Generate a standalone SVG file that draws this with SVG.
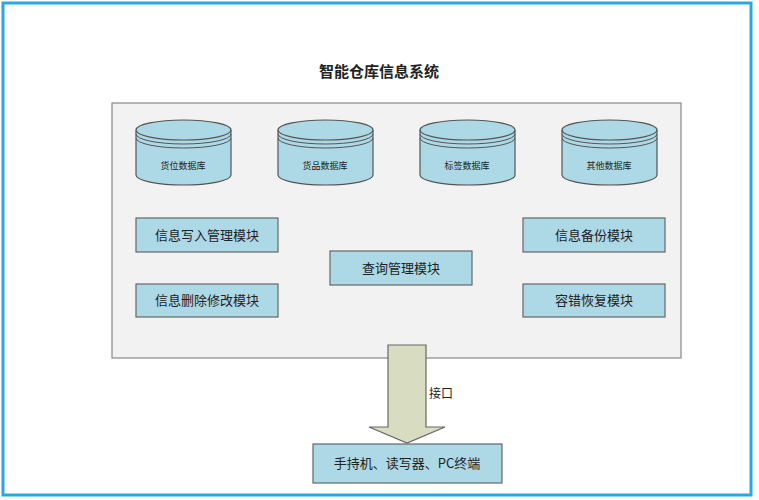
<svg xmlns="http://www.w3.org/2000/svg" width="759" height="500" viewBox="0 0 759 500">
<style>
.t{font-family:"Noto Sans CJK SC","Liberation Sans",sans-serif;fill:#222}
.b{fill:#add8e6;stroke:#666;stroke-width:1.2}
.c{fill:#add8e6;stroke:#555;stroke-width:1.2}
</style>
<defs>
<g id="cyl">
<path class="c" d="M0,10 V55 A47.5,10 0 0 0 95,55 V10"/>
<ellipse class="c" cx="47.5" cy="10" rx="47.5" ry="10"/>
<path d="M0,14 A47.5,10 0 0 0 95,14 M0,18 A47.5,10 0 0 0 95,18" fill="none" stroke="#555" stroke-width="1"/>
</g>
</defs>
<rect x="0" y="0" width="759" height="500" fill="#fff"/>
<rect x="3" y="3" width="748" height="492" fill="#fff" stroke="#29a8e0" stroke-width="3"/>
<text class="t" x="379" y="77" font-size="15" font-weight="bold" text-anchor="middle">智能仓库信息系统</text>
<rect x="112" y="103" width="569" height="255" fill="#f2f2f2" stroke="#888" stroke-width="1.2"/>
<g id="db1"><use href="#cyl" x="136" y="120"/><text class="t" x="183" y="169" font-size="9" text-anchor="middle">货位数据库</text></g>
<g id="db2"><use href="#cyl" x="278" y="120"/><text class="t" x="325" y="169" font-size="9" text-anchor="middle">货品数据库</text></g>
<g id="db3"><use href="#cyl" x="420" y="120"/><text class="t" x="467" y="169" font-size="9" text-anchor="middle">标签数据库</text></g>
<g id="db4"><use href="#cyl" x="562" y="120"/><text class="t" x="609" y="169" font-size="9" text-anchor="middle">其他数据库</text></g>
<g id="m1"><rect class="b" x="136" y="218" width="142" height="34"/><text class="t" x="207" y="240" font-size="13" text-anchor="middle">信息写入管理模块</text></g>
<g id="m2"><rect class="b" x="136" y="284" width="142" height="33"/><text class="t" x="207" y="305" font-size="13" text-anchor="middle">信息删除修改模块</text></g>
<g id="m3"><rect class="b" x="330" y="251" width="142" height="34"/><text class="t" x="401" y="273" font-size="13" text-anchor="middle">查询管理模块</text></g>
<g id="m4"><rect class="b" x="523" y="218" width="142" height="34"/><text class="t" x="594" y="240" font-size="13" text-anchor="middle">信息备份模块</text></g>
<g id="m5"><rect class="b" x="523" y="284" width="142" height="33"/><text class="t" x="594" y="305" font-size="13" text-anchor="middle">容错恢复模块</text></g>
<g id="connectors">
<path d="M388,345 H426 V427 H445 L407,443 L369,427 H388 Z" fill="#d8dcc0" stroke="#666" stroke-width="1.2"/>
<text class="t" x="429" y="398" font-size="12">接口</text>
</g>
<g id="term"><rect class="b" x="313" y="444" width="189" height="39"/><text class="t" x="407" y="468" font-size="13" text-anchor="middle">手持机、读写器、PC终端</text></g>
</svg>
